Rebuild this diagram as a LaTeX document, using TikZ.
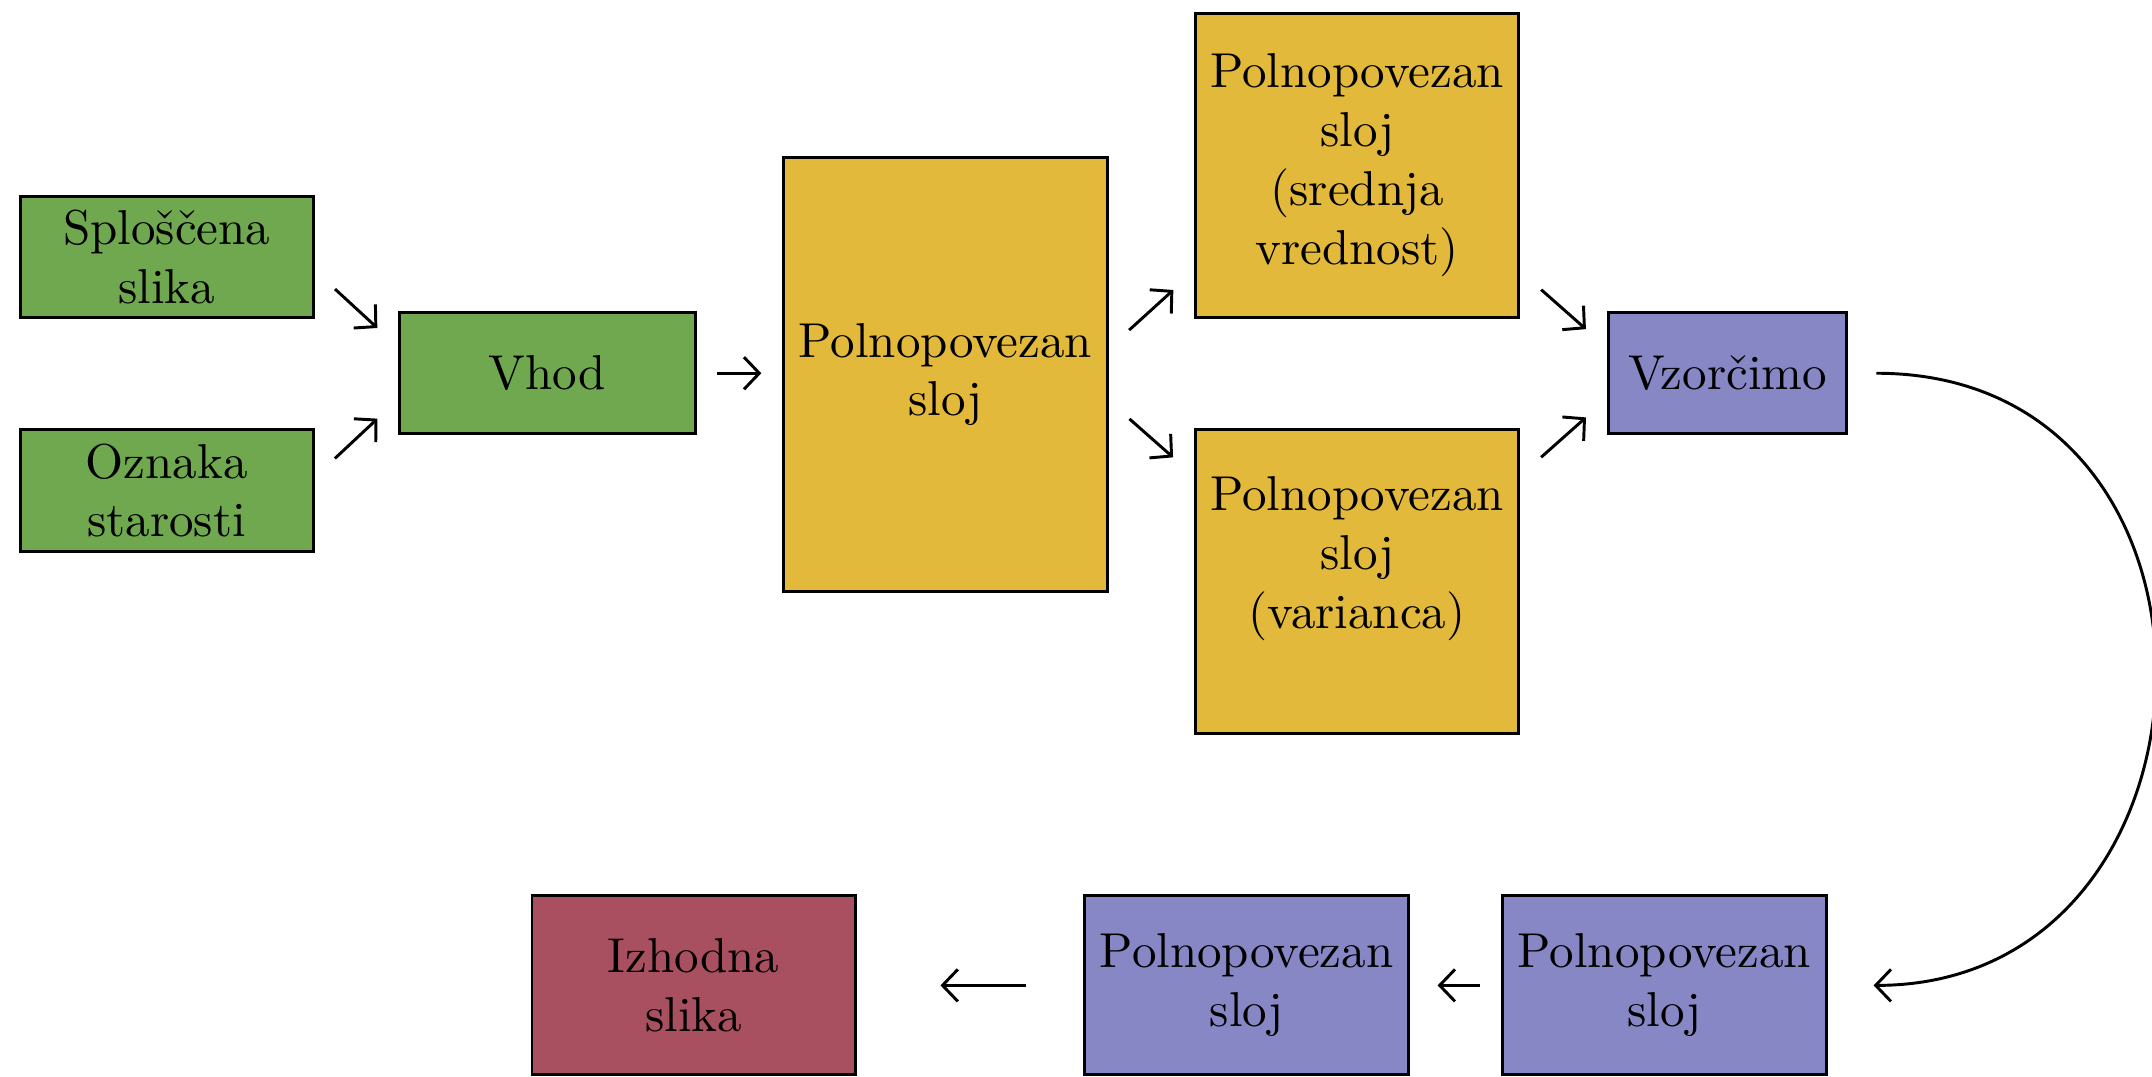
\documentclass[tikz,border=0pt]{standalone}
\usepackage{tikz}
\usetikzlibrary{arrows.meta}
\usetikzlibrary{calc}
\usetikzlibrary{positioning}

\definecolor{zelena}{RGB}{112,168,80}
\definecolor{rumena}{RGB}{226,185,58}
\definecolor{vijolicna}{RGB}{135,135,198}
\definecolor{rdeca}{RGB}{168,80,95}

\begin{document}
\begin{tikzpicture}[
  > = {Straight Barb[length=1.1mm, width=2.3mm]},
  box/.style = {draw, semithick, align=center, inner sep=1pt, minimum width=2.32cm},
  inbox/.style = {box, fill=zelena, minimum width=2.1cm, minimum height=0.87cm},
  fcbox/.style = {box, fill=rumena},
  smpbox/.style = {box, fill=vijolicna},
  outbox/.style = {box, fill=rdeca},
  link/.style = {->, semithick, shorten <=2mm, shorten >=2mm}
  ]
	\useasboundingbox (0,0) rectangle (15.44,-7.726);

	% vhod
	\node[inbox] (spl) at (1.196,-1.846) {Sploščena\\slika};
	\node[inbox] (ozn) at (1.196,-3.519) {Oznaka\\starosti};
	\node[inbox, minimum width=2.126cm] (vhod) at (3.928,-2.678) {Vhod};

	% kodirnik
	\node[fcbox, minimum height=3.111cm] (fc) at (6.783,-2.688) {Polnopovezan\\sloj};
	\node[fcbox, minimum height=2.18cm] (fcmean) at (9.737,-1.186) {Polnopovezan\\sloj\\(srednja\\vrednost)};
	\node[fcbox, minimum height=2.18cm] (fcvar) at (9.737,-4.174) {Polnopovezan\\sloj\\(varianca)\\\mbox{}};
	\node[smpbox, minimum width=1.712cm, minimum height=0.867cm] (vz) at (12.395,-2.678) {Vzorčimo};

	% dekodirnik
	\node[smpbox, minimum height=1.284cm] (fc1) at (11.942,-7.07) {Polnopovezan\\sloj};
	\node[smpbox, minimum height=1.284cm] (fc2) at (8.944,-7.07) {Polnopovezan\\sloj};
	\node[outbox, minimum height=1.284cm] (izh) at (4.977,-7.07) {Izhodna\\slika};

	\draw[link] (spl.-5) -- (vhod.170);
	\draw[link] (ozn.5) -- (vhod.190);
	\draw[link, shorten <=1.4mm, shorten >=1.5mm] (vhod.east) -- (fc.west |- vhod.east);
	\draw[link] (fc.9) -- (fcmean.213);
	\draw[link] (fc.-9) -- (fcvar.147);
	\draw[link] (fcmean.-33) -- (vz.168);
	\draw[link] (fcvar.33) -- (vz.192);
	\draw[link, shorten >=3.3mm] (vz.east) .. controls +(2.95,0) and +(2.95,0) .. (fc1.east);
	\draw[link, shorten <=1.5mm] (fc1.west) -- (fc2.east);
	\draw[link, shorten <=4.1mm, shorten >=6mm] (fc2.west) -- (izh.east);

\end{tikzpicture}
\end{document}
